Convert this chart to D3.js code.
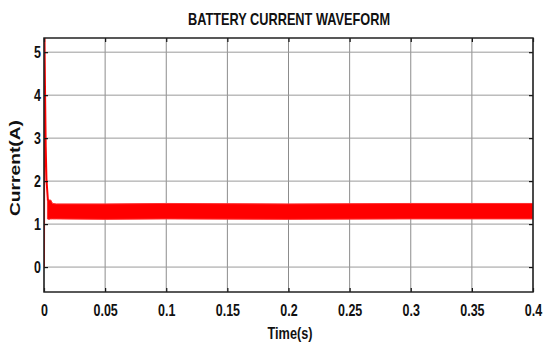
<!DOCTYPE html>
<html>
<head>
<meta charset="utf-8" />
<style>
body { margin: 0; background-color: #fff; }
#chart { width: 545px; height: 345px; }
text { font-family: "Liberation Sans", Arial, sans-serif; font-weight: bold; fill: #111; }
</style>
<title>battery current waveform</title>
</head>
<body>
<div id="chart"></div>
<script src="https://d3js.org/d3.v7.min.js"></script>
<script>

// tick labels
var xTicks = [0, 0.05, 0.1, 0.15, 0.2, 0.25, 0.3, 0.35, 0.4];
var yTicks = [0, 1, 2, 3, 4, 5];

// start-up transient (time, current)
var spikeT = [0, 0.0003, 0.0008, 0.0014, 0.002, 0.0026, 0.0032];
var spikeI = [0, 5.6, 4.2, 2.8, 2.05, 1.8, 1.55];

// ripple band envelope
var bandT  = [0.0028, 0.004, 0.0055, 0.007, 0.01, 0.05, 0.1, 0.2, 0.3, 0.4];
var bandHi = [1.58, 1.56, 1.56, 1.48, 1.47, 1.47, 1.48, 1.47, 1.48, 1.48];
var bandLo = [1.12, 1.11, 1.12, 1.12, 1.12, 1.11, 1.12, 1.11, 1.12, 1.12];

var width = 545, height = 345;
var margin = {top: 38, right: 12, bottom: 53, left: 44};
var w = width - margin.left - margin.right,
    h = height - margin.top - margin.bottom;
var squeeze = 0.78; // narrow look of the original font

var svg = d3.select("#chart").append("svg")
    .attr("width", width)
    .attr("height", height);

var g = svg.append("g")
    .attr("transform", "translate(" + margin.left + "," + margin.top + ")");

var x = d3.scaleLinear().domain([0, 0.4]).range([0, w]);
var y = d3.scaleLinear().domain([-0.58, 5.33]).range([h, 0]);

// grid
g.selectAll(".vgrid").data(xTicks).enter().append("line")
    .attr("x1", function(d) { return x(d); })
    .attr("x2", function(d) { return x(d); })
    .attr("y1", 0).attr("y2", h)
    .attr("stroke", "#8c8c8c").attr("stroke-width", 1);

g.selectAll(".hgrid").data(yTicks).enter().append("line")
    .attr("x1", 0).attr("x2", w)
    .attr("y1", function(d) { return y(d); })
    .attr("y2", function(d) { return y(d); })
    .attr("stroke", "#9a9a9a").attr("stroke-width", 1);

// clip for the data
svg.append("clipPath").attr("id", "clip")
  .append("rect").attr("x", 0).attr("y", 0).attr("width", w).attr("height", h);

var data = g.append("g").attr("clip-path", "url(#clip)");

var band = bandT.map(function(t, i) { return {t: t, hi: bandHi[i], lo: bandLo[i]}; });

data.append("path")
    .datum(band)
    .attr("fill", "#ff0000")
    .attr("stroke", "#ff3030")
    .attr("stroke-width", 1)
    .attr("d", d3.area()
        .x(function(d) { return x(d.t); })
        .y0(function(d) { return y(d.lo); })
        .y1(function(d) { return y(d.hi); }));

var spike = spikeT.map(function(t, i) { return [t, spikeI[i]]; });

data.append("path")
    .datum(spike)
    .attr("fill", "none")
    .attr("stroke", "#ff0000")
    .attr("stroke-width", 2)
    .attr("d", d3.line()
        .x(function(d) { return x(d[0]); })
        .y(function(d) { return y(d[1]); }));

// axes with inward ticks
var xAxis = d3.axisBottom(x).tickValues(xTicks).tickSize(-4).tickPadding(13)
    .tickFormat(function(d) { return d3.format("~g")(d); });
var yAxis = d3.axisLeft(y).tickValues(yTicks).tickSize(-4).tickPadding(3)
    .tickFormat(d3.format("d"));

var gx = g.append("g").attr("transform", "translate(0," + h + ")").call(xAxis);
var gy = g.append("g").call(yAxis);

g.append("g").call(d3.axisTop(x).tickValues(xTicks).tickSize(-4).tickFormat(""));
g.append("g").attr("transform", "translate(" + w + ",0)")
    .call(d3.axisRight(y).tickValues(yTicks).tickSize(-4).tickFormat(""));

g.selectAll(".domain").remove();
g.selectAll(".tick line").attr("stroke", "#111").attr("stroke-width", 1.2);

gx.selectAll("text").style("font-size", "16px").attr("fill", "#111")
    .attr("transform", "scale(" + squeeze + ",1)");
gy.selectAll("text").style("font-size", "16px").attr("fill", "#111")
    .attr("x", -3 / squeeze)
    .attr("transform", "scale(" + squeeze + ",1)");

// frame
g.append("rect")
    .attr("x", 0).attr("y", 0).attr("width", w).attr("height", h)
    .attr("fill", "none").attr("stroke", "#222").attr("stroke-width", 1.5);

// left edge of the trace sits on the frame
data.append("line")
    .attr("x1", x(0)).attr("x2", x(0))
    .attr("y1", y(0)).attr("y2", 0)
    .attr("stroke", "#ff0000").attr("stroke-width", 2);

// titles
svg.append("text")
    .attr("x", 289).attr("y", 25)
    .attr("text-anchor", "middle")
    .style("font-size", "17px")
    .attr("textLength", 202)
    .attr("lengthAdjust", "spacingAndGlyphs")
    .text("BATTERY CURRENT WAVEFORM");

svg.append("text")
    .attr("x", 290).attr("y", 339)
    .attr("text-anchor", "middle")
    .style("font-size", "16px")
    .attr("textLength", 45)
    .attr("lengthAdjust", "spacingAndGlyphs")
    .text("Time(s)");

svg.append("text")
    .attr("transform", "translate(20,168) rotate(-90)")
    .attr("text-anchor", "middle")
    .style("font-size", "14px")
    .attr("textLength", 96)
    .attr("lengthAdjust", "spacingAndGlyphs")
    .text("Current(A)");

</script>
</body>
</html>
